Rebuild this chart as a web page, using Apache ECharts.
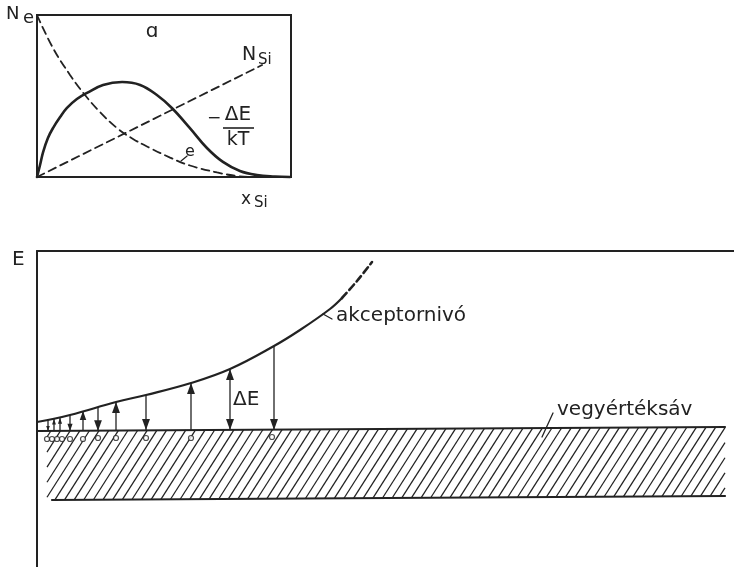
<!DOCTYPE html>
<html>
<head>
<meta charset="utf-8">
<script src="https://cdn.jsdelivr.net/npm/echarts@6.0.0/dist/echarts.min.js"></script>
<style>
  html, body { margin: 0; padding: 0; background: #ffffff; }
  #chart { width: 734px; height: 567px; }
</style>
</head>
<body>
<div id="chart"></div>
<script>
// ---- Panel (a): normalised profiles along x_Si (0..1 on both axes) ----
const holeProfile = [
  [0, 0], [0.012, 0.074], [0.024, 0.154], [0.043, 0.241], [0.063, 0.302],
  [0.091, 0.37], [0.118, 0.426], [0.157, 0.481], [0.197, 0.519], [0.26, 0.568],
  [0.335, 0.586], [0.406, 0.568], [0.472, 0.506], [0.531, 0.426], [0.602, 0.302],
  [0.669, 0.179], [0.732, 0.093], [0.799, 0.037], [0.866, 0.012], [0.937, 0.003],
  [0.996, 0]
];
const boltzmannFactor = [
  [0, 1.0], [0.063, 0.796], [0.13, 0.63], [0.189, 0.506], [0.248, 0.401],
  [0.315, 0.302], [0.378, 0.235], [0.445, 0.179], [0.524, 0.12], [0.602, 0.071],
  [0.709, 0.028], [0.787, 0.006], [0.846, 0]
];
const siliconContent = [[0, 0], [0.886, 0.691]];
const eLeader = [[0.567, 0.099], [0.591, 0.13]];

// ---- Panel (b): energy levels along the sample (distance, energy) ----
const acceptorLevel = [
  [0, 145], [33, 152], [79, 165], [109, 172], [154, 184], [193, 198],
  [237, 221], [263, 237], [293, 258], [305, 269]
];
const acceptorLevelExtension = [[305, 269], [320, 286], [335, 305]];
const bandTop = [[0, 136], [688, 140]];
const bandBottom = [[15, 67], [688, 71]];
// [x left, x right, bottom-left E, top-left E, bottom-right E, top-right E]
const bandHatch = [[10, 688, 67, 136, 71, 140]];
// [x, lower E, upper E, direction: 1 up, -1 down, 2 both]
const transitions = [
  [11, 136, 147, -1], [17, 136, 148, 1], [23, 136, 149, 1], [33, 136, 152, -1],
  [46, 136, 156, 1], [61, 136, 160, -1], [79, 136, 165, 1], [109, 137, 172, -1],
  [154, 137, 184, 1], [193, 137, 198, 2], [237, 137, 221, -1]
];
const holes = [
  [10, 128], [15, 128], [20, 128], [25, 128], [33, 128], [46, 128], [61, 129],
  [79, 129], [109, 129], [154, 129], [235, 130]
];
const acceptorLeader = [[286, 253], [295, 248]];
const bandLeader = [[505, 130], [516, 154]];

const INK = '#222222';
const FONT = '"DejaVu Sans", sans-serif';

function renderHatch(params, api) {
  const xL = api.value(0), xR = api.value(1);
  const bl = api.coord([xL, api.value(2)]);
  const tl = api.coord([xL, api.value(3)]);
  const br = api.coord([xR, api.value(4)]);
  const tr = api.coord([xR, api.value(5)]);
  const L = bl[0], W = br[0] - bl[0];
  const mb = (br[1] - bl[1]) / W, mt = (tr[1] - tl[1]) / W;
  const s = 1.57, pitch = 9.6;       // slope and horizontal spacing of the hatching
  const children = [];
  // hatch line: y = c - s * u, with u = x - L
  for (let c = tl[1] + 6; c < bl[1] + (s + mb) * W; c += pitch * s) {
    let u0 = (c - bl[1]) / (s + mb);
    let u1 = (c - tl[1]) / (s + mt);
    u0 = Math.max(u0, 0);
    u1 = Math.min(u1, W);
    if (u1 <= u0) continue;
    children.push({
      type: 'line',
      shape: { x1: L + u0, y1: c - s * u0, x2: L + u1, y2: c - s * u1 },
      style: { stroke: INK, lineWidth: 1.25 }
    });
  }
  return { type: 'group', children };
}

function arrowHead(tip, dir, len, half) {
  // dir = -1 points up on screen, +1 points down
  return {
    type: 'polygon',
    shape: { points: [tip, [tip[0] - half, tip[1] - dir * len], [tip[0] + half, tip[1] - dir * len]] },
    style: { fill: INK }
  };
}

function renderArrow(params, api) {
  const x = api.value(0);
  const lo = api.coord([x, api.value(1)]);
  const hi = api.coord([x, api.value(2)]);
  const dir = api.value(3);
  const length = lo[1] - hi[1];
  const hl = Math.min(11, length * 0.45), hw = hl * 0.36;
  const children = [{
    type: 'line',
    shape: { x1: lo[0], y1: lo[1], x2: hi[0], y2: hi[1] },
    style: { stroke: INK, lineWidth: 1.3 }
  }];
  if (dir === 1 || dir === 2) children.push(arrowHead(hi, -1, hl, hw));
  if (dir === -1 || dir === 2) children.push(arrowHead(lo, 1, hl, hw));
  return { type: 'group', children };
}

function lineSeries(data, xi, width, dash) {
  return {
    type: 'line', data, xAxisIndex: xi, yAxisIndex: xi,
    showSymbol: false, symbol: 'none',
    smooth: data.length > 2 ? 0.4 : false,
    clip: false, silent: true,
    lineStyle: { color: INK, width, type: dash || 'solid', cap: 'round' }
  };
}

function txt(text, x, y, size, align) {
  return {
    type: 'text', x, y, silent: true,
    style: { text, font: size + 'px ' + FONT, fill: INK, align: align || 'left', verticalAlign: 'middle' }
  };
}

const chart = echarts.init(document.getElementById('chart'), null, { renderer: 'canvas' });
chart.setOption({
  animation: false,
  backgroundColor: '#ffffff',
  grid: [
    { left: 37, top: 15, width: 254, height: 162, show: true, borderColor: INK, borderWidth: 2, containLabel: false },
    { left: 37, top: 251, right: 0, bottom: 0, containLabel: false }
  ],
  xAxis: [
    { gridIndex: 0, type: 'value', min: 0, max: 1, show: false },
    { gridIndex: 1, type: 'value', min: 0, max: 697, position: 'top',
      axisLine: { show: true, onZero: false, lineStyle: { color: INK, width: 2 } },
      axisTick: { show: false }, axisLabel: { show: false }, splitLine: { show: false } }
  ],
  yAxis: [
    { gridIndex: 0, type: 'value', min: 0, max: 1, show: false },
    { gridIndex: 1, type: 'value', min: 0, max: 316,
      axisLine: { show: true, onZero: false, lineStyle: { color: INK, width: 2 } },
      axisTick: { show: false }, axisLabel: { show: false }, splitLine: { show: false } }
  ],
  series: [
    lineSeries(holeProfile, 0, 2.6),
    lineSeries(boltzmannFactor, 0, 1.8, [8, 5]),
    lineSeries(siliconContent, 0, 1.8, [8, 5]),
    lineSeries(eLeader, 0, 1.2),
    {
      type: 'custom', xAxisIndex: 1, yAxisIndex: 1, data: bandHatch,
      renderItem: renderHatch, silent: true, clip: false
    },
    lineSeries(bandTop, 1, 2.2),
    lineSeries(bandBottom, 1, 2.2),
    lineSeries(acceptorLevel, 1, 2.2),
    lineSeries(acceptorLevelExtension, 1, 2.6, [7, 4]),
    lineSeries(acceptorLeader, 1, 1.3),
    lineSeries(bandLeader, 1, 1.3),
    {
      type: 'custom', xAxisIndex: 1, yAxisIndex: 1, data: transitions,
      renderItem: renderArrow, silent: true, clip: false
    },
    {
      type: 'scatter', xAxisIndex: 1, yAxisIndex: 1, data: holes,
      symbol: 'circle', symbolSize: 5, silent: true,
      itemStyle: { color: '#ffffff', borderColor: INK, borderWidth: 1.2 }
    }
  ],
  graphic: [
    txt('N', 6, 14, 18),
    txt('e', 23, 18, 18),
    txt('ɑ', 152, 32, 20, 'center'),
    txt('N', 242, 55, 19),
    txt('Si', 258, 60, 15),
    txt('−', 207, 119, 17),
    txt('ΔE', 238, 115, 20, 'center'),
    { type: 'line', silent: true, shape: { x1: 223, y1: 128, x2: 254, y2: 128 }, style: { stroke: INK, lineWidth: 1.6 } },
    txt('kT', 238, 140, 19, 'center'),
    txt('e', 190, 152, 16, 'center'),
    txt('x', 241, 200, 17),
    txt('Si', 254, 203, 15),
    txt('E', 12, 260, 20),
    txt('akceptornivó', 336, 316, 20),
    txt('vegyértéksáv', 557, 410, 20),
    txt('ΔE', 233, 400, 20)
  ]
});
</script>
</body>
</html>
